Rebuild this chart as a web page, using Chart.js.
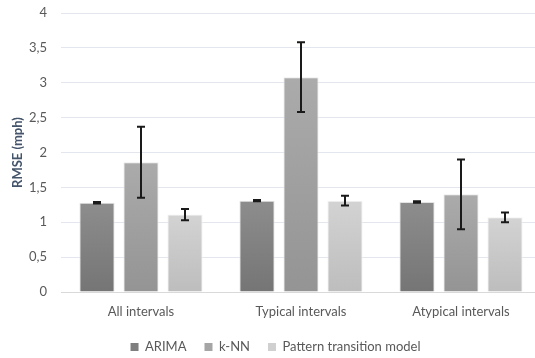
<!DOCTYPE html>
<html>
<head>
<meta charset="utf-8">
<script src="https://cdn.jsdelivr.net/npm/chart.js@4/dist/chart.umd.min.js"></script>
<style>
  html, body { margin: 0; padding: 0; background: #fff; overflow: hidden; }
  #wrap { width: 541px; height: 358px; }
</style>
</head>
<body>
<div id="wrap"><canvas id="c" width="541" height="358"></canvas></div>
<script>
// Interval groups on the x axis
const categories = ['All intervals', 'Typical intervals', 'Atypical intervals'];

// Mean RMSE per model (mph)
const arimaRmse = [1.28, 1.31, 1.29];
const knnRmse = [1.86, 3.08, 1.40];
const patternRmse = [1.11, 1.31, 1.07];

// Error bar half-widths (mph)
const arimaErr = [0.01, 0.01, 0.01];
const knnErr = [0.51, 0.50, 0.50];
const patternErr = [0.08, 0.07, 0.07];

// Y axis tick values
const yTicks = [0, 0.5, 1, 1.5, 2, 2.5, 3, 3.5, 4];

const FONT = 'Lato, "Open Sans", sans-serif';
const PLOT_BOTTOM = 292;   // pixel row of the value axis zero line
const LEGEND_ROW = 347;    // pixel row of the legend text centre
const LEGEND_PAD = 18;

// Vertical gradient per bar: lighter on top, darker at the base
function barGradient(top, bottom) {
  return function (ctx) {
    const chart = ctx.chart;
    if (!chart.chartArea || ctx.raw === undefined) return top;
    const y = chart.scales.y;
    const y0 = y.getPixelForValue(ctx.raw);
    const y1 = y.getPixelForValue(0);
    if (!isFinite(y0) || !isFinite(y1) || y0 === y1) return top;
    const g = chart.ctx.createLinearGradient(0, y0, 0, y1);
    g.addColorStop(0, top);
    g.addColorStop(1, bottom);
    return g;
  };
}

// Draws the error whiskers from each dataset's errors array
const errorBars = {
  id: 'errorBars',
  afterDatasetsDraw(chart) {
    const ctx = chart.ctx;
    const y = chart.scales.y;
    ctx.save();
    ctx.strokeStyle = '#1a1a1a';
    ctx.lineWidth = 2;
    chart.data.datasets.forEach((ds, i) => {
      const meta = chart.getDatasetMeta(i);
      meta.data.forEach((bar, j) => {
        const v = ds.data[j];
        const e = ds.errors[j];
        const x = bar.x;
        const yHi = y.getPixelForValue(v + e);
        const yLo = y.getPixelForValue(v - e);
        const cap = 4;
        ctx.beginPath();
        ctx.moveTo(x, yHi); ctx.lineTo(x, yLo);
        ctx.moveTo(x - cap, yHi); ctx.lineTo(x + cap, yHi);
        ctx.moveTo(x - cap, yLo); ctx.lineTo(x + cap, yLo);
        ctx.stroke();
      });
    });
    ctx.restore();
  }
};

// Nudges the legend row so its text sits at LEGEND_ROW, and lets the
// category labels use the full space below the axis
const legendRow = {
  id: 'legendRow',
  afterLayout(chart) {
    const lg = chart.legend;
    if (lg) {
      const shift = LEGEND_ROW - (lg.top + LEGEND_PAD + 6.5);
      lg.top += shift;
      lg.bottom += shift;
    }
    const x = chart.scales.x;
    x.bottom = chart.height;
    x.height = x.bottom - x.top;
  }
};

new Chart(document.getElementById('c'), {
  type: 'bar',
  data: {
    labels: categories,
    datasets: [
      { label: 'ARIMA', data: arimaRmse, errors: arimaErr,
        backgroundColor: barGradient('#8d8d8d', '#757575'),
        borderColor: '#e4e4e4', borderWidth: 1, legendColor: '#7f7f7f' },
      { label: 'k-NN', data: knnRmse, errors: knnErr,
        backgroundColor: barGradient('#ababab', '#949494'),
        borderColor: '#ececec', borderWidth: 1, legendColor: '#a5a5a5' },
      { label: 'Pattern transition model', data: patternRmse, errors: patternErr,
        backgroundColor: barGradient('#d3d3d3', '#bdbdbd'),
        borderColor: '#f2f2f2', borderWidth: 1, legendColor: '#d0d0d0' }
    ]
  },
  options: {
    responsive: false,
    animation: false,
    devicePixelRatio: 1,
    layout: { padding: { left: 10, right: 0, top: 0, bottom: 0 } },
    datasets: { bar: { barPercentage: 0.8, categoryPercentage: 0.825 } },
    scales: {
      x: {
        afterFit(s) {
          const lgH = s.chart.legend ? s.chart.legend.height || 0 : 0;
          s.height = Math.max(0, s.chart.height - PLOT_BOTTOM - lgH);
        },
        grid: { display: false, drawTicks: false },
        border: { display: true, color: '#d9d9d9', width: 1 },
        ticks: { color: '#595959', font: { family: FONT, size: 13 }, padding: 12 }
      },
      y: {
        min: 0, max: 4,
        afterBuildTicks(s) { s.ticks = yTicks.map(v => ({ value: v })); },
        afterFit(s) { s.width = 51; s.paddingTop = 13; s.paddingBottom = 0; },
        grid: { color: '#e3e7ed', drawTicks: false },
        border: { display: false },
        ticks: {
          color: '#595959', font: { family: FONT, size: 13 }, padding: 14,
          callback: v => String(v).replace('.', ',')
        },
        title: {
          display: true, text: 'RMSE (mph)', color: '#44546a',
          font: { family: FONT, size: 13, weight: 'bold' },
          padding: { top: 0, bottom: 0 }
        }
      }
    },
    plugins: {
      tooltip: { enabled: false },
      legend: {
        position: 'bottom',
        labels: {
          color: '#595959', font: { family: FONT, size: 13 },
          boxWidth: 8, boxHeight: 8, padding: LEGEND_PAD,
          generateLabels(chart) {
            return chart.data.datasets.map((ds, i) => ({
              text: ds.label, fillStyle: ds.legendColor, strokeStyle: ds.legendColor,
              lineWidth: 0, hidden: false, datasetIndex: i, fontColor: '#595959'
            }));
          }
        }
      }
    }
  },
  plugins: [errorBars, legendRow]
});
</script>
</body>
</html>
